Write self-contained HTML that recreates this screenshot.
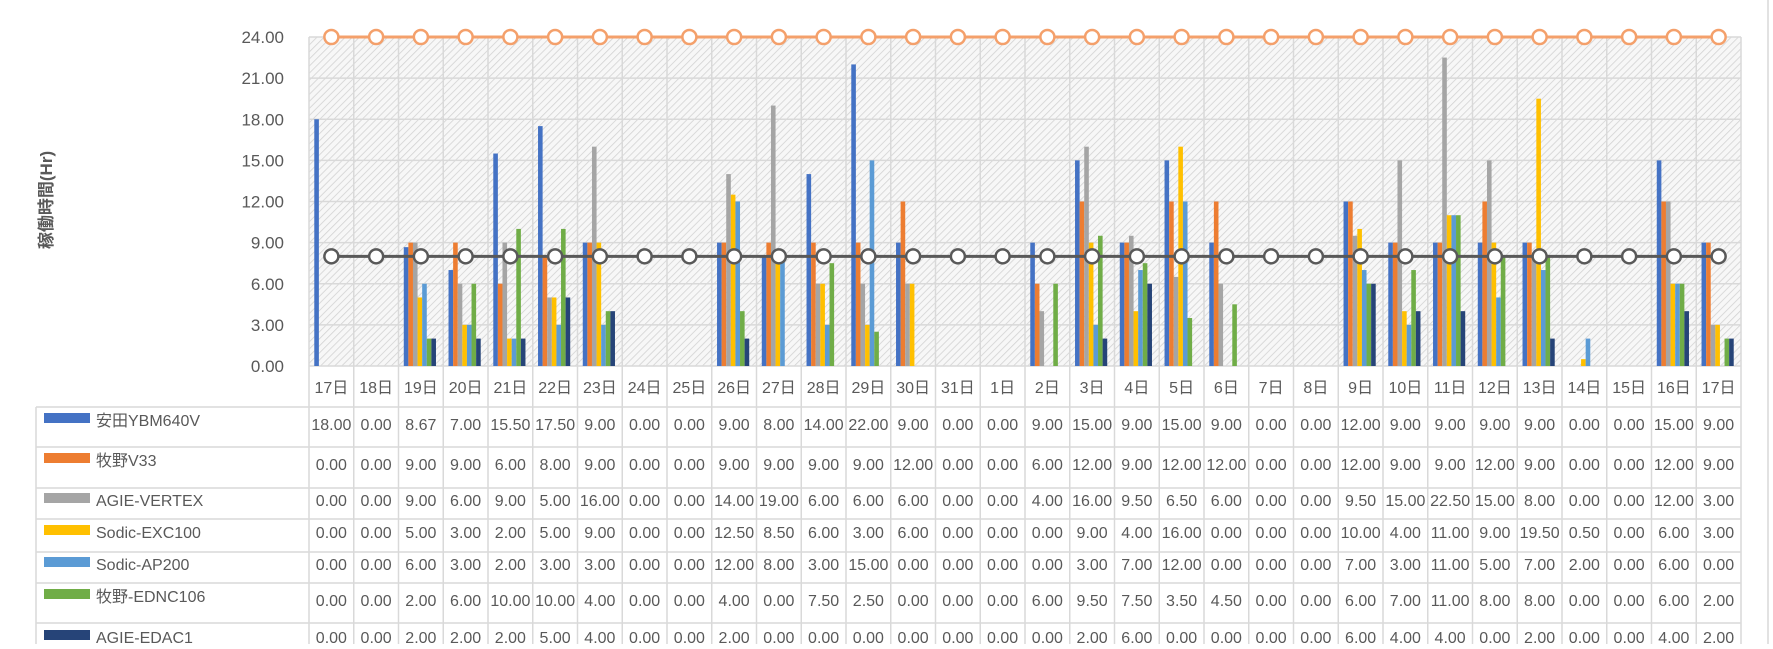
<!DOCTYPE html>
<html><head><meta charset="utf-8">
<style>
html,body{margin:0;padding:0;background:#fff;}
body{width:1773px;height:644px;overflow:hidden;font-family:"Liberation Sans","Noto Sans CJK JP",sans-serif;}
svg text{font-family:"Liberation Sans","Noto Sans CJK JP",sans-serif;}
</style></head>
<body>
<svg id="chart" width="1773" height="644" viewBox="0 0 1773 644" xmlns="http://www.w3.org/2000/svg">
<defs>
<pattern id="hatch" patternUnits="userSpaceOnUse" width="5" height="5" patternTransform="rotate(45)">
<rect width="5" height="5" fill="#f7f7f7"/>
<line x1="0" y1="0" x2="0" y2="5" stroke="#d2d2d2" stroke-width="1.6"/>
</pattern>
</defs>
<g id="layer"></g>
</svg>
<script>
const categories=["17日","18日","19日","20日","21日","22日","23日","24日","25日","26日","27日","28日","29日","30日","31日","1日","2日","3日","4日","5日","6日","7日","8日","9日","10日","11日","12日","13日","14日","15日","16日","17日"];
const seriesNames=["安田YBM640V","牧野V33","AGIE-VERTEX","Sodic-EXC100","Sodic-AP200","牧野-EDNC106","AGIE-EDAC1"];
const s1=[18,0,8.67,7,15.5,17.5,9,0,0,9,8,14,22,9,0,0,9,15,9,15,9,0,0,12,9,9,9,9,0,0,15,9];
const s2=[0,0,9,9,6,8,9,0,0,9,9,9,9,12,0,0,6,12,9,12,12,0,0,12,9,9,12,9,0,0,12,9];
const s3=[0,0,9,6,9,5,16,0,0,14,19,6,6,6,0,0,4,16,9.5,6.5,6,0,0,9.5,15,22.5,15,8,0,0,12,3];
const s4=[0,0,5,3,2,5,9,0,0,12.5,8.5,6,3,6,0,0,0,9,4,16,0,0,0,10,4,11,9,19.5,0.5,0,6,3];
const s5=[0,0,6,3,2,3,3,0,0,12,8,3,15,0,0,0,0,3,7,12,0,0,0,7,3,11,5,7,2,0,6,0];
const s6=[0,0,2,6,10,10,4,0,0,4,0,7.5,2.5,0,0,0,6,9.5,7.5,3.5,4.5,0,0,6,7,11,8,8,0,0,6,2];
const s7=[0,0,2,2,2,5,4,0,0,2,0,0,0,0,0,0,0,2,6,0,0,0,0,6,4,4,0,2,0,0,4,2];
const maxLine=[24];
const targetLine=[8];
const yTicks=[0,3,6,9,12,15,18,21,24];
const colors=["#4472C4","#ED7D31","#A5A5A5","#FFC000","#5B9BD5","#70AD47","#264478"];
const series=[s1,s2,s3,s4,s5,s6,s7];

const NS="http://www.w3.org/2000/svg";
const g=document.getElementById('layer');
const X0=309,X1=1741,Y0=366,Y1=37,YMAX=24;
const cw=(X1-X0)/categories.length;
const y=v=>Y0-(v/YMAX)*(Y0-Y1);
const xc=i=>X0+cw*(i+0.5);
function mk(tag,attrs,parent){const e=document.createElementNS(NS,tag);for(const k in attrs)e.setAttribute(k,attrs[k]);(parent||g).appendChild(e);return e;}

// plot background
let e=mk('rect',{x:X0,y:Y1,width:X1-X0,height:Y0-Y1,fill:'url(#hatch)'});


// horizontal gridlines + tick labels
yTicks.forEach(t=>{
  let l=mk('line',{x1:X0,x2:X1,y1:y(t),y2:y(t),stroke:'#d9d9d9','stroke-width':1.5});
  
  
  let tx=mk('text',{x:284,y:y(t)+6,'text-anchor':'end','font-size':17,fill:'#595959'});
  tx.textContent=t.toFixed(2);
  
  
});
// vertical lines (columns through date row and table)
for(let i=0;i<=categories.length;i++){
  let xx=X0+cw*i;
  let l=mk('line',{x1:xx,x2:xx,y1:Y1,y2:644,stroke:'#d9d9d9','stroke-width':1.5});
  
  
}
// table horizontal lines
const rowB=[407,447,488,519,552,583,623,664];
rowB.forEach(yy=>{
  let l=mk('line',{x1:36,x2:X1,y1:yy,y2:yy,stroke:'#d9d9d9','stroke-width':1.5});
  
  
});
e=mk('line',{x1:36,x2:36,y1:407,y2:644,stroke:'#d9d9d9','stroke-width':1.5});


e=mk('line',{x1:1768,x2:1768,y1:0,y2:644,stroke:'#d9d9d9','stroke-width':1.5});



// date labels
categories.forEach((c,i)=>{
  let tx=mk('text',{x:xc(i),y:393,'text-anchor':'middle','font-size':16,fill:'#595959'});
  tx.textContent=c;
  
  
});

// bars
const bw=4.6;
series.forEach((s,si)=>{
  s.forEach((v,i)=>{
    if(v<=0)return;
    const bx=xc(i)-bw*7/2+si*bw-1;
    let r=mk('rect',{x:bx,y:y(v),width:bw,height:Y0-y(v),fill:colors[si]});
    
    
  });
});

// lines
function drawLine(val,color,fill,name){
  let pts=categories.map((c,i)=>xc(i)+','+y(val)).join(' ');
  let pl=mk('polyline',{points:pts,fill:'none',stroke:color,'stroke-width':3});
  
  
  categories.forEach((c,i)=>{
    let ci=mk('circle',{cx:xc(i),cy:y(val),r:7,fill:fill,stroke:color,'stroke-width':2.5});
    
    
  });
}
drawLine(maxLine[0],'#F4A06B','#fff','max-hours');
drawLine(targetLine[0],'#595959','#fff','target-hours');

// table rows
const rowY=[430,470,506,538,570,606,643];
series.forEach((s,si)=>{
  let sw=mk('rect',{x:44,y:rowY[si]-13+(si==0||si==1||si==5?-4:0),width:46,height:10,fill:colors[si]});
  
  
  let lt=mk('text',{x:96,y:rowY[si]-(si==0||si==1||si==5?4:0),'font-size':16,fill:'#595959'});
  lt.textContent=seriesNames[si];
  
  
  s.forEach((v,i)=>{
    let tx=mk('text',{x:xc(i),y:rowY[si],'text-anchor':'middle','font-size':16,fill:'#595959'});
    tx.textContent=v.toFixed(2);
    
    
  });
});

// y axis title
let yt=mk('text',{x:0,y:0,'font-size':17,'font-weight':'bold',fill:'#595959','text-anchor':'middle',transform:'translate(52,200) rotate(-90)'});
yt.textContent='稼働時間(Hr)';


</script>
</body></html>
